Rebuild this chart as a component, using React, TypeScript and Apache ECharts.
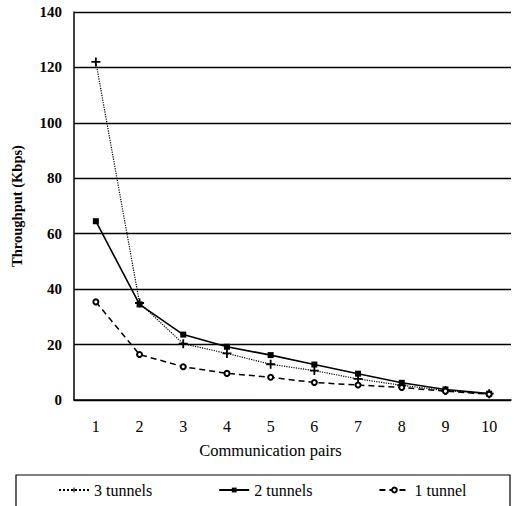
import React, { useEffect, useRef } from "react";
import * as echarts from "echarts";

const categories = ["1", "2", "3", "4", "5", "6", "7", "8", "9", "10"];
const threeTunnels = [122, 35, 20.3, 16.8, 12.9, 10.6, 7.6, 5.3, 3.4, 2.3];
const twoTunnels = [64.5, 34.5, 23.6, 19.2, 16.2, 12.8, 9.5, 6.2, 3.8, 2.3];
const oneTunnel = [35.4, 16.4, 12, 9.6, 8.2, 6.3, 5.4, 4.5, 3.2, 2.1];
const seriesNames = ["3 tunnels", "2 tunnels", "1 tunnel"];

const FONT = "Liberation Serif";
const PLUS = "path://M4,0 H6 V4 H10 V6 H6 V10 H4 V6 H0 V4 H4 Z";

export default function App() {
  const ref = useRef<HTMLDivElement>(null);
  useEffect(() => {
    document.body.style.margin = "0";
    const chart = echarts.init(ref.current!, null, { renderer: "svg" });
    chart.setOption({
      animation: false,
      backgroundColor: "#fff",
      textStyle: { fontFamily: FONT, color: "#000" },
      grid: { left: 74, right: 5, top: 12, bottom: 106 },
      xAxis: {
        type: "category",
        data: categories,
        boundaryGap: true,
        name: "Communication pairs",
        nameLocation: "middle",
        nameGap: 42,
        nameTextStyle: { fontFamily: FONT, fontSize: 16.5, color: "#000", padding: [0, 44, 0, 0] },
        axisLine: { lineStyle: { color: "#000", width: 1.5 } },
        axisTick: { inside: true, length: 5, lineStyle: { color: "#000" } },
        axisLabel: { fontFamily: FONT, fontSize: 16, color: "#000", margin: 18 },
      },
      yAxis: {
        type: "value",
        min: 0,
        max: 140,
        interval: 20,
        name: "Throughput (Kbps)",
        nameLocation: "middle",
        nameGap: 50,
        nameTextStyle: { fontFamily: FONT, fontSize: 14.5, fontWeight: "bold", color: "#000" },
        axisLine: { show: true, lineStyle: { color: "#000", width: 1.5 } },
        axisTick: { show: false },
        axisLabel: { fontFamily: FONT, fontSize: 15, fontWeight: "bold", color: "#000", margin: 12 },
        splitLine: { lineStyle: { color: "#000", width: 1.3 } },
      },
      legend: {
        left: 53,
        top: 477,
        itemWidth: 30,
        itemHeight: 6,
        itemGap: 66,
        textStyle: { fontFamily: FONT, fontSize: 16, color: "#000" },
        data: seriesNames,
      },
      graphic: [
        {
          type: "rect",
          shape: { x: 16, y: 475, width: 494, height: 40 },
          style: { fill: "none", stroke: "#000", lineWidth: 1.2 },
        },
      ],
      series: [
        {
          name: seriesNames[0],
          type: "line",
          data: threeTunnels,
          symbol: PLUS,
          symbolSize: 9,
          itemStyle: { color: "#000" },
          lineStyle: { color: "#000", width: 1.2, type: "dotted" },
        },
        {
          name: seriesNames[1],
          type: "line",
          data: twoTunnels,
          symbol: "rect",
          symbolSize: 6,
          itemStyle: { color: "#000" },
          lineStyle: { color: "#000", width: 1.6, type: "solid" },
        },
        {
          name: seriesNames[2],
          type: "line",
          data: oneTunnel,
          symbol: "emptyCircle",
          symbolSize: 5,
          itemStyle: { color: "#000", borderColor: "#000", borderWidth: 1.2 },
          lineStyle: { color: "#000", width: 1.5, type: [6, 4] },
        },
      ],
    });
    return () => chart.dispose();
  }, []);
  return <div ref={ref} style={{ width: 516, height: 506 }} />;
}
